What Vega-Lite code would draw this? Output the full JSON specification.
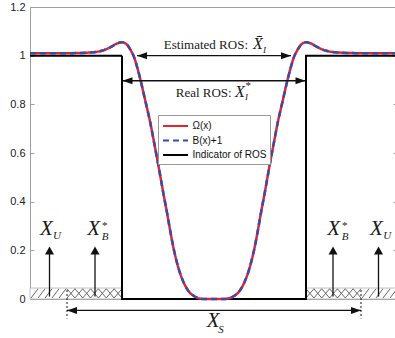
{
  "$schema": "https://vega.github.io/schema/vega-lite/v6.json",
  "width": 366,
  "height": 292,
  "autosize": {"type": "none"},
  "padding": {"left": 30, "top": 7, "right": 0, "bottom": 39},
  "config": {
    "view": {"stroke": "#a0a0a0", "strokeWidth": 1},
    "axis": {"title": null, "grid": false, "labelFont": "Liberation Sans", "labelFontSize": 11, "labelColor": "#222222", "domainColor": "#a0a0a0", "tickColor": "#a0a0a0", "tickSize": -4, "labelPadding": 9},
    "legend": {"orient": "none", "legendX": 128, "legendY": 108, "strokeColor": "#999999", "fillColor": "white", "padding": 3.5, "symbolType": "M-2,0H2", "symbolSize": 156, "symbolStrokeWidth": 2, "symbolOffset": 6.5, "labelFont": "Liberation Sans", "labelFontSize": 10, "labelColor": "#111111", "rowPadding": 1.5, "labelOffset": 9.5, "title": null}
  },
  "resolve": {"axis": {"y": "independent"}},
  "datasets": {
    "lines": [
      {"s": "Indicator of ROS", "x": -184, "y": 1}, {"s": "Indicator of ROS", "x": -92, "y": 1}, {"s": "Indicator of ROS", "x": -92, "y": 0}, {"s": "Indicator of ROS", "x": 92, "y": 0}, {"s": "Indicator of ROS", "x": 92, "y": 1}, {"s": "Indicator of ROS", "x": 182, "y": 1},
      {"s": "Ω(x)", "x": -184, "y": 1.01}, {"s": "Ω(x)", "x": -165, "y": 1.01}, {"s": "Ω(x)", "x": -150, "y": 1.01}, {"s": "Ω(x)", "x": -135, "y": 1.011}, {"s": "Ω(x)", "x": -125, "y": 1.013}, {"s": "Ω(x)", "x": -117, "y": 1.016}, {"s": "Ω(x)", "x": -110, "y": 1.023}, {"s": "Ω(x)", "x": -103, "y": 1.036}, {"s": "Ω(x)", "x": -97, "y": 1.05}, {"s": "Ω(x)", "x": -92, "y": 1.055}, {"s": "Ω(x)", "x": -87, "y": 1.045}, {"s": "Ω(x)", "x": -83, "y": 1.02}, {"s": "Ω(x)", "x": -80, "y": 0.995}, {"s": "Ω(x)", "x": -77, "y": 0.955}, {"s": "Ω(x)", "x": -73.5, "y": 0.9}, {"s": "Ω(x)", "x": -69, "y": 0.82}, {"s": "Ω(x)", "x": -64, "y": 0.73}, {"s": "Ω(x)", "x": -60, "y": 0.645}, {"s": "Ω(x)", "x": -55, "y": 0.535}, {"s": "Ω(x)", "x": -50, "y": 0.42}, {"s": "Ω(x)", "x": -47, "y": 0.355}, {"s": "Ω(x)", "x": -44, "y": 0.285}, {"s": "Ω(x)", "x": -40, "y": 0.2}, {"s": "Ω(x)", "x": -35, "y": 0.12}, {"s": "Ω(x)", "x": -30, "y": 0.065}, {"s": "Ω(x)", "x": -25, "y": 0.03}, {"s": "Ω(x)", "x": -20, "y": 0.012}, {"s": "Ω(x)", "x": -16, "y": 0.004}, {"s": "Ω(x)", "x": -10, "y": 0}, {"s": "Ω(x)", "x": 0, "y": 0}, {"s": "Ω(x)", "x": 10, "y": 0}, {"s": "Ω(x)", "x": 16, "y": 0.004}, {"s": "Ω(x)", "x": 20, "y": 0.012}, {"s": "Ω(x)", "x": 25, "y": 0.03}, {"s": "Ω(x)", "x": 30, "y": 0.065}, {"s": "Ω(x)", "x": 35, "y": 0.12}, {"s": "Ω(x)", "x": 40, "y": 0.2}, {"s": "Ω(x)", "x": 44, "y": 0.285}, {"s": "Ω(x)", "x": 47, "y": 0.355}, {"s": "Ω(x)", "x": 50, "y": 0.42}, {"s": "Ω(x)", "x": 55, "y": 0.535}, {"s": "Ω(x)", "x": 60, "y": 0.645}, {"s": "Ω(x)", "x": 64, "y": 0.73}, {"s": "Ω(x)", "x": 69, "y": 0.82}, {"s": "Ω(x)", "x": 73.5, "y": 0.9}, {"s": "Ω(x)", "x": 77, "y": 0.955}, {"s": "Ω(x)", "x": 80, "y": 0.995}, {"s": "Ω(x)", "x": 83, "y": 1.02}, {"s": "Ω(x)", "x": 87, "y": 1.045}, {"s": "Ω(x)", "x": 92, "y": 1.055}, {"s": "Ω(x)", "x": 97, "y": 1.05}, {"s": "Ω(x)", "x": 103, "y": 1.036}, {"s": "Ω(x)", "x": 110, "y": 1.023}, {"s": "Ω(x)", "x": 117, "y": 1.016}, {"s": "Ω(x)", "x": 125, "y": 1.013}, {"s": "Ω(x)", "x": 135, "y": 1.011}, {"s": "Ω(x)", "x": 150, "y": 1.01}, {"s": "Ω(x)", "x": 165, "y": 1.01}, {"s": "Ω(x)", "x": 182, "y": 1.01},
      {"s": "B(x)+1", "x": -184, "y": 1.01}, {"s": "B(x)+1", "x": -165, "y": 1.01}, {"s": "B(x)+1", "x": -150, "y": 1.01}, {"s": "B(x)+1", "x": -135, "y": 1.011}, {"s": "B(x)+1", "x": -125, "y": 1.013}, {"s": "B(x)+1", "x": -117, "y": 1.016}, {"s": "B(x)+1", "x": -110, "y": 1.023}, {"s": "B(x)+1", "x": -103, "y": 1.036}, {"s": "B(x)+1", "x": -97, "y": 1.05}, {"s": "B(x)+1", "x": -92, "y": 1.055}, {"s": "B(x)+1", "x": -87, "y": 1.045}, {"s": "B(x)+1", "x": -83, "y": 1.02}, {"s": "B(x)+1", "x": -80, "y": 0.995}, {"s": "B(x)+1", "x": -77, "y": 0.955}, {"s": "B(x)+1", "x": -73.5, "y": 0.9}, {"s": "B(x)+1", "x": -69, "y": 0.82}, {"s": "B(x)+1", "x": -64, "y": 0.73}, {"s": "B(x)+1", "x": -60, "y": 0.645}, {"s": "B(x)+1", "x": -55, "y": 0.535}, {"s": "B(x)+1", "x": -50, "y": 0.42}, {"s": "B(x)+1", "x": -47, "y": 0.355}, {"s": "B(x)+1", "x": -44, "y": 0.285}, {"s": "B(x)+1", "x": -40, "y": 0.2}, {"s": "B(x)+1", "x": -35, "y": 0.12}, {"s": "B(x)+1", "x": -30, "y": 0.065}, {"s": "B(x)+1", "x": -25, "y": 0.03}, {"s": "B(x)+1", "x": -20, "y": 0.012}, {"s": "B(x)+1", "x": -16, "y": 0.004}, {"s": "B(x)+1", "x": -10, "y": 0}, {"s": "B(x)+1", "x": 0, "y": 0}, {"s": "B(x)+1", "x": 10, "y": 0}, {"s": "B(x)+1", "x": 16, "y": 0.004}, {"s": "B(x)+1", "x": 20, "y": 0.012}, {"s": "B(x)+1", "x": 25, "y": 0.03}, {"s": "B(x)+1", "x": 30, "y": 0.065}, {"s": "B(x)+1", "x": 35, "y": 0.12}, {"s": "B(x)+1", "x": 40, "y": 0.2}, {"s": "B(x)+1", "x": 44, "y": 0.285}, {"s": "B(x)+1", "x": 47, "y": 0.355}, {"s": "B(x)+1", "x": 50, "y": 0.42}, {"s": "B(x)+1", "x": 55, "y": 0.535}, {"s": "B(x)+1", "x": 60, "y": 0.645}, {"s": "B(x)+1", "x": 64, "y": 0.73}, {"s": "B(x)+1", "x": 69, "y": 0.82}, {"s": "B(x)+1", "x": 73.5, "y": 0.9}, {"s": "B(x)+1", "x": 77, "y": 0.955}, {"s": "B(x)+1", "x": 80, "y": 0.995}, {"s": "B(x)+1", "x": 83, "y": 1.02}, {"s": "B(x)+1", "x": 87, "y": 1.045}, {"s": "B(x)+1", "x": 92, "y": 1.055}, {"s": "B(x)+1", "x": 97, "y": 1.05}, {"s": "B(x)+1", "x": 103, "y": 1.036}, {"s": "B(x)+1", "x": 110, "y": 1.023}, {"s": "B(x)+1", "x": 117, "y": 1.016}, {"s": "B(x)+1", "x": 125, "y": 1.013}, {"s": "B(x)+1", "x": 135, "y": 1.011}, {"s": "B(x)+1", "x": 150, "y": 1.01}, {"s": "B(x)+1", "x": 165, "y": 1.01}, {"s": "B(x)+1", "x": 182, "y": 1.01}
    ],
    "zones": [{"x": -184, "x2": -92}, {"x": 92, "x2": 184}],
    "hatch": [
      {"x": -183, "x2": -176, "y": 0.004, "y2": 0.042}, {"x": -176, "x2": -169, "y": 0.004, "y2": 0.042}, {"x": -169, "x2": -162, "y": 0.004, "y2": 0.042}, {"x": -162, "x2": -155, "y": 0.004, "y2": 0.042}, {"x": -155, "x2": -148, "y": 0.004, "y2": 0.042},
      {"x": -147, "x2": -139.1, "y": 0.004, "y2": 0.042}, {"x": -147, "x2": -139.1, "y": 0.042, "y2": 0.004},
      {"x": -139.1, "x2": -131.3, "y": 0.004, "y2": 0.042}, {"x": -139.1, "x2": -131.3, "y": 0.042, "y2": 0.004},
      {"x": -131.3, "x2": -123.4, "y": 0.004, "y2": 0.042}, {"x": -131.3, "x2": -123.4, "y": 0.042, "y2": 0.004},
      {"x": -123.4, "x2": -115.6, "y": 0.004, "y2": 0.042}, {"x": -123.4, "x2": -115.6, "y": 0.042, "y2": 0.004},
      {"x": -115.6, "x2": -107.7, "y": 0.004, "y2": 0.042}, {"x": -115.6, "x2": -107.7, "y": 0.042, "y2": 0.004},
      {"x": -107.7, "x2": -99.9, "y": 0.004, "y2": 0.042}, {"x": -107.7, "x2": -99.9, "y": 0.042, "y2": 0.004},
      {"x": -99.9, "x2": -92, "y": 0.004, "y2": 0.042}, {"x": -99.9, "x2": -92, "y": 0.042, "y2": 0.004},
      {"x": 92, "x2": 99.9, "y": 0.004, "y2": 0.042}, {"x": 92, "x2": 99.9, "y": 0.042, "y2": 0.004},
      {"x": 99.9, "x2": 107.7, "y": 0.004, "y2": 0.042}, {"x": 99.9, "x2": 107.7, "y": 0.042, "y2": 0.004},
      {"x": 107.7, "x2": 115.6, "y": 0.004, "y2": 0.042}, {"x": 107.7, "x2": 115.6, "y": 0.042, "y2": 0.004},
      {"x": 115.6, "x2": 123.4, "y": 0.004, "y2": 0.042}, {"x": 115.6, "x2": 123.4, "y": 0.042, "y2": 0.004},
      {"x": 123.4, "x2": 131.3, "y": 0.004, "y2": 0.042}, {"x": 123.4, "x2": 131.3, "y": 0.042, "y2": 0.004},
      {"x": 131.3, "x2": 139.1, "y": 0.004, "y2": 0.042}, {"x": 131.3, "x2": 139.1, "y": 0.042, "y2": 0.004},
      {"x": 139.1, "x2": 147, "y": 0.004, "y2": 0.042}, {"x": 139.1, "x2": 147, "y": 0.042, "y2": 0.004},
      {"x": 148, "x2": 155, "y": 0.004, "y2": 0.042}, {"x": 155, "x2": 162, "y": 0.004, "y2": 0.042}, {"x": 162, "x2": 169, "y": 0.004, "y2": 0.042}, {"x": 169, "x2": 176, "y": 0.004, "y2": 0.042}, {"x": 176, "x2": 183, "y": 0.004, "y2": 0.042}
    ],
    "arrows": [
      {"x": -77, "x2": 77, "y": 1, "y2": 1},
      {"x": -91.5, "x2": 91.5, "y": 0.897, "y2": 0.897},
      {"x": -147, "x2": 147, "y": -0.047, "y2": -0.047},
      {"x": -164.5, "x2": -164.5, "y": 0.01, "y2": 0.2},
      {"x": -119, "x2": -119, "y": 0.01, "y2": 0.2},
      {"x": 119, "x2": 119, "y": 0.01, "y2": 0.2},
      {"x": 164.5, "x2": 164.5, "y": 0.01, "y2": 0.2}
    ],
    "heads": [
      {"x": -77, "y": 1, "d": "left"}, {"x": 77, "y": 1, "d": "right"},
      {"x": -91.5, "y": 0.897, "d": "left"}, {"x": 91.5, "y": 0.897, "d": "right"},
      {"x": -147, "y": -0.047, "d": "left"}, {"x": 147, "y": -0.047, "d": "right"},
      {"x": -164.5, "y": 0.216, "d": "up"}, {"x": -119, "y": 0.216, "d": "up"}, {"x": 119, "y": 0.216, "d": "up"}, {"x": 164.5, "y": 0.216, "d": "up"}
    ],
    "dots": [{"x": -147, "y": 0.037, "y2": -0.08}, {"x": 147, "y": 0.037, "y2": -0.08}],
    "labels": [
      {"k": "plain", "t": "Estimated ROS:", "x": 34, "y": 1.028},
      {"k": "mid", "t": "X̄", "x": 39, "y": 1.028},
      {"k": "tiny", "t": "I", "x": 49, "y": 1.011},
      {"k": "plain", "t": "Real ROS:", "x": 17.7, "y": 0.832},
      {"k": "mid", "t": "X", "x": 21, "y": 0.832},
      {"k": "tiny", "t": "I", "x": 31, "y": 0.818},
      {"k": "sup", "t": "*", "x": 31.5, "y": 0.875},
      {"k": "big", "t": "X", "x": -174, "y": 0.264},
      {"k": "sub", "t": "U", "x": -161, "y": 0.248},
      {"k": "big", "t": "X", "x": -126.7, "y": 0.264},
      {"k": "sub", "t": "B", "x": -112.3, "y": 0.243},
      {"k": "sup", "t": "*", "x": -112, "y": 0.3},
      {"k": "big", "t": "X", "x": 113.3, "y": 0.264},
      {"k": "sub", "t": "B", "x": 127.7, "y": 0.243},
      {"k": "sup", "t": "*", "x": 128, "y": 0.3},
      {"k": "big", "t": "X", "x": 156, "y": 0.264},
      {"k": "sub", "t": "U", "x": 169.3, "y": 0.248},
      {"k": "big", "t": "X", "x": -7.3, "y": -0.116},
      {"k": "sub", "t": "S", "x": 4.3, "y": -0.14}
    ]
  },
  "layer": [
    {
      "data": {"name": "zones"},
      "mark": {"type": "rect", "fill": "white", "stroke": "#b0b0b0", "strokeWidth": 0.8},
      "encoding": {
        "x": {"field": "x", "type": "quantitative", "scale": {"domain": [-184, 182], "nice": false}, "axis": null},
        "x2": {"field": "x2"},
        "y": {"datum": 0, "type": "quantitative", "scale": {"domain": [0, 1.2], "nice": false}, "axis": {"values": [0, 0.2, 0.4, 0.6, 0.8, 1, 1.2], "format": "~g"}},
        "y2": {"datum": 0.045}
      }
    },
    {
      "data": {"name": "hatch"},
      "mark": {"type": "rule", "stroke": "#555555", "strokeWidth": 0.9},
      "encoding": {
        "x": {"field": "x", "type": "quantitative"}, "x2": {"field": "x2"},
        "y": {"field": "y", "type": "quantitative", "axis": {"orient": "right", "values": [0, 0.2, 0.4, 0.6, 0.8, 1, 1.2], "labels": false, "domain": false, "offset": 1}}, "y2": {"field": "y2"}
      }
    },
    {
      "data": {"name": "lines"},
      "transform": [{"filter": "datum.s === 'Indicator of ROS'"}],
      "mark": {"type": "line", "strokeWidth": 2},
      "encoding": {
        "x": {"field": "x", "type": "quantitative"},
        "y": {"field": "y", "type": "quantitative", "axis": null},
        "color": {"field": "s", "type": "nominal", "scale": {"domain": ["Ω(x)", "B(x)+1", "Indicator of ROS"], "range": ["#f0202a", "#2f4fb0", "#000000"]}},
        "strokeDash": {"field": "s", "type": "nominal", "scale": {"domain": ["Ω(x)", "B(x)+1", "Indicator of ROS"], "range": [[1, 0], [6, 4], [1, 0]]}},
        "order": {"value": 0}
      }
    },
    {
      "data": {"name": "lines"},
      "transform": [{"filter": "datum.s === 'Ω(x)'"}],
      "mark": {"type": "line", "strokeWidth": 2.5, "interpolate": "monotone"},
      "encoding": {
        "x": {"field": "x", "type": "quantitative"},
        "y": {"field": "y", "type": "quantitative", "axis": null},
        "color": {"field": "s", "type": "nominal"},
        "strokeDash": {"field": "s", "type": "nominal"}
      }
    },
    {
      "data": {"name": "lines"},
      "transform": [{"filter": "datum.s === 'B(x)+1'"}],
      "mark": {"type": "line", "strokeWidth": 2.5, "interpolate": "monotone"},
      "encoding": {
        "x": {"field": "x", "type": "quantitative"},
        "y": {"field": "y", "type": "quantitative", "axis": null},
        "color": {"field": "s", "type": "nominal"},
        "strokeDash": {"field": "s", "type": "nominal"}
      }
    },
    {
      "data": {"name": "arrows"},
      "mark": {"type": "rule", "stroke": "#111111", "strokeWidth": 1.3},
      "encoding": {
        "x": {"field": "x", "type": "quantitative"}, "x2": {"field": "x2"},
        "y": {"field": "y", "type": "quantitative", "axis": null}, "y2": {"field": "y2"}
      }
    },
    {
      "data": {"name": "heads"},
      "mark": {"type": "point", "filled": true, "fill": "#111111", "opacity": 1, "strokeWidth": 0, "size": 400},
      "encoding": {
        "x": {"field": "x", "type": "quantitative"},
        "y": {"field": "y", "type": "quantitative", "axis": null},
        "shape": {"field": "d", "type": "nominal", "legend": null, "scale": {"domain": ["left", "right", "up"], "range": ["M0,0L1,-0.35L1,0.35Z", "M0,0L-1,-0.35L-1,0.35Z", "M0,0L-0.45,0.8L0.45,0.8Z"]}}
      }
    },
    {
      "data": {"name": "dots"},
      "mark": {"type": "rule", "stroke": "#111111", "strokeWidth": 1, "strokeDash": [2, 2]},
      "encoding": {
        "x": {"field": "x", "type": "quantitative"},
        "y": {"field": "y", "type": "quantitative", "axis": null}, "y2": {"field": "y2"}
      }
    },
    {
      "data": {"name": "labels"},
      "transform": [{"filter": "datum.k === 'plain'"}],
      "mark": {"type": "text", "font": "Liberation Serif", "fontSize": 13, "align": "right", "baseline": "alphabetic", "color": "#1a1a1a"},
      "encoding": {"x": {"field": "x", "type": "quantitative"}, "y": {"field": "y", "type": "quantitative", "axis": null}, "text": {"field": "t"}}
    },
    {
      "data": {"name": "labels"},
      "transform": [{"filter": "datum.k === 'mid'"}],
      "mark": {"type": "text", "font": "Liberation Serif", "fontSize": 16, "fontStyle": "italic", "align": "left", "baseline": "alphabetic", "color": "#1a1a1a"},
      "encoding": {"x": {"field": "x", "type": "quantitative"}, "y": {"field": "y", "type": "quantitative", "axis": null}, "text": {"field": "t"}}
    },
    {
      "data": {"name": "labels"},
      "transform": [{"filter": "datum.k === 'tiny'"}],
      "mark": {"type": "text", "font": "Liberation Serif", "fontSize": 9, "fontStyle": "italic", "align": "left", "baseline": "alphabetic", "color": "#1a1a1a"},
      "encoding": {"x": {"field": "x", "type": "quantitative"}, "y": {"field": "y", "type": "quantitative", "axis": null}, "text": {"field": "t"}}
    },
    {
      "data": {"name": "labels"},
      "transform": [{"filter": "datum.k === 'sup'"}],
      "mark": {"type": "text", "font": "Liberation Serif", "fontSize": 11, "align": "left", "baseline": "middle", "color": "#1a1a1a"},
      "encoding": {"x": {"field": "x", "type": "quantitative"}, "y": {"field": "y", "type": "quantitative", "axis": null}, "text": {"field": "t"}}
    },
    {
      "data": {"name": "labels"},
      "transform": [{"filter": "datum.k === 'big'"}],
      "mark": {"type": "text", "font": "Liberation Serif", "fontSize": 21, "fontStyle": "italic", "align": "left", "baseline": "alphabetic", "color": "#1a1a1a"},
      "encoding": {"x": {"field": "x", "type": "quantitative"}, "y": {"field": "y", "type": "quantitative", "axis": null}, "text": {"field": "t"}}
    },
    {
      "data": {"name": "labels"},
      "transform": [{"filter": "datum.k === 'sub'"}],
      "mark": {"type": "text", "font": "Liberation Serif", "fontSize": 11, "fontStyle": "italic", "align": "left", "baseline": "alphabetic", "color": "#1a1a1a"},
      "encoding": {"x": {"field": "x", "type": "quantitative"}, "y": {"field": "y", "type": "quantitative", "axis": null}, "text": {"field": "t"}}
    }
  ]
}
